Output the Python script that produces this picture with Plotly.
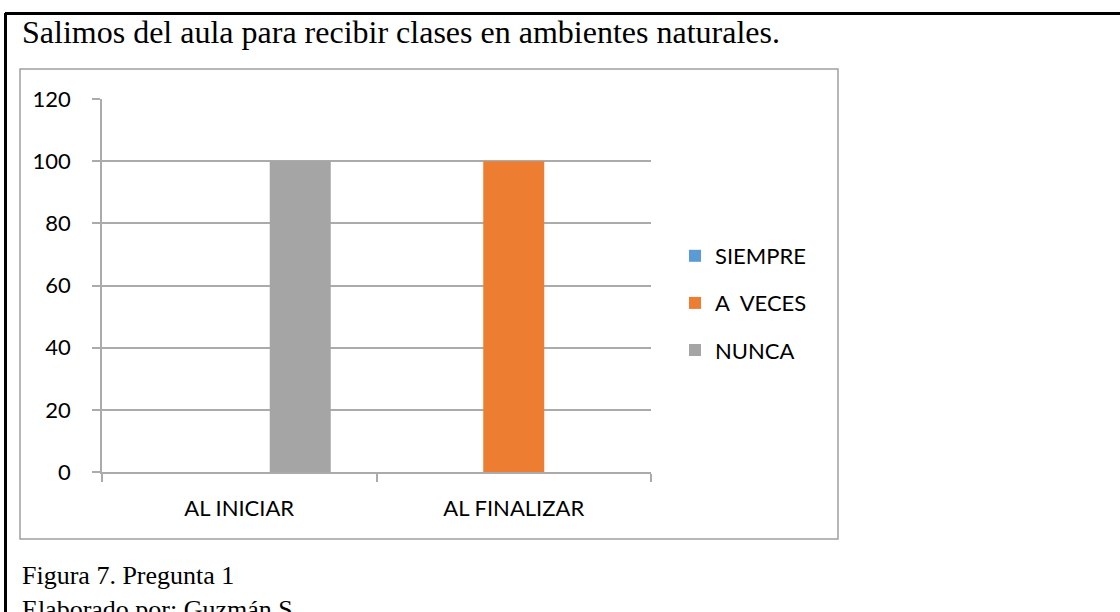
import plotly.graph_objects as go

categories = ["AL INICIAR", "AL FINALIZAR"]
series_names = ["SIEMPRE", "A  VECES", "NUNCA"]
siempre = [0, 0]
a_veces = [0, 100]
nunca = [100, 0]
y_ticks = [0, 20, 40, 60, 80, 100, 120]
colors = ["#5B9BD5", "#ED7D31", "#A5A5A5"]

W, H = 1120, 612
PL, PR, PT, PB = 102, 651, 99, 472  # plot area in pixels


def px(x):
    return (x - PL) / (PR - PL)


def py(y):
    return (PB - y) / (PB - PT)


fig = go.Figure()
for name, vals, col in zip(series_names, [siempre, a_veces, nunca], colors):
    fig.add_trace(go.Bar(x=categories, y=vals, name=name, marker_color=col,
                         marker_line_width=0, legendgroup=name))

grid = "#ABABAB"
calibri = "Lato, Calibri, sans-serif"
fig.update_layout(
    width=W, height=H, autosize=False,
    margin=dict(l=PL, r=W - PR, t=PT, b=H - PB, pad=0),
    paper_bgcolor="white", plot_bgcolor="white",
    barmode="group", bargap=1 / 3, bargroupgap=0,
    font=dict(family=calibri, size=22, color="#000000"),
    showlegend=True,
    legend=dict(x=px(675), xanchor="left", y=py(235), yanchor="top",
                font=dict(family=calibri, size=22, color="#000000"),
                itemwidth=30, tracegroupgap=15.5, traceorder="grouped",
                bgcolor="rgba(0,0,0,0)"),
    xaxis=dict(showgrid=False, showline=True, linecolor=grid, linewidth=1.5,
               ticks="outside", ticklen=8, tickcolor=grid, tickwidth=1.5,
               tickson="boundaries", ticklabelstandoff=16,
               tickfont=dict(family=calibri, size=22, color="#000000")),
    yaxis=dict(range=[0, 120], tickvals=y_ticks, showgrid=True, gridcolor=grid,
               gridwidth=1.5, showline=True, linecolor=grid, linewidth=1.5,
               ticks="outside", ticklen=8, tickcolor=grid, tickwidth=1.5,
               zeroline=False, ticklabelstandoff=17,
               tickfont=dict(family=calibri, size=22, color="#000000")),
)

# gray chart frame
fig.add_shape(type="rect", xref="paper", yref="paper",
              x0=px(20), x1=px(838), y0=py(539), y1=py(69),
              line=dict(color="#A0A0A0", width=1.5), fillcolor="rgba(0,0,0,0)")
# outer black document frame (top + left)
fig.add_shape(type="line", xref="paper", yref="paper",
              x0=px(5), x1=px(1125), y0=py(13.5), y1=py(13.5),
              line=dict(color="#000000", width=3))
fig.add_shape(type="line", xref="paper", yref="paper",
              x0=px(5.5), x1=px(5.5), y0=py(13), y1=py(620),
              line=dict(color="#000000", width=3))

serif = "'Liberation Serif', 'Times New Roman', serif"
fig.add_annotation(text="Salimos del aula para recibir clases en ambientes naturales.",
                   xref="paper", yref="paper", x=px(20), y=py(32),
                   xanchor="left", yanchor="middle", showarrow=False,
                   font=dict(family=serif, size=32, color="#000000"))
fig.add_annotation(text="Figura 7. Pregunta 1",
                   xref="paper", yref="paper", x=px(20), y=py(575),
                   xanchor="left", yanchor="middle", showarrow=False,
                   font=dict(family=serif, size=26, color="#000000"))
fig.add_annotation(text="Elaborado por: Guzmán S.",
                   xref="paper", yref="paper", x=px(20), y=py(609),
                   xanchor="left", yanchor="middle", showarrow=False,
                   font=dict(family=serif, size=26, color="#000000"))

fig.write_html("out.html", config={"displayModeBar": False},
               post_script="document.body.style.margin='0';document.body.style.overflow='hidden';")
